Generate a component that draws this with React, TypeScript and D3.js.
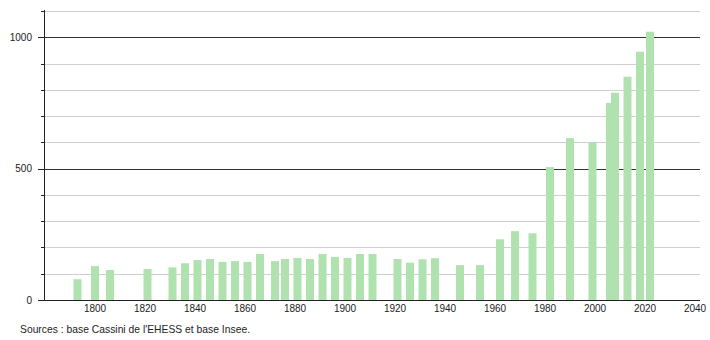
import React from "react";
import * as d3 from "d3";

const years = [1793, 1800, 1806, 1821, 1831, 1836, 1841, 1846, 1851, 1856, 1861, 1866, 1872, 1876, 1881, 1886, 1891, 1896, 1901, 1906, 1911, 1921, 1926, 1931, 1936, 1946, 1954, 1962, 1968, 1975, 1982, 1990, 1999, 2006, 2008, 2013, 2018, 2022];
const population = [79, 129, 114, 118, 124, 140, 152, 156, 145, 148, 145, 175, 148, 156, 160, 156, 175, 164, 160, 175, 175, 156, 142, 155, 159, 133, 133, 231, 262, 254, 506, 616, 600, 750, 789, 850, 945, 1021];
const xTicks = [1800, 1820, 1840, 1860, 1880, 1900, 1920, 1940, 1960, 1980, 2000, 2020, 2040];
const yLabelTicks = [0, 500, 1000];
const yGridTicks = [100, 200, 300, 400, 500, 600, 700, 800, 900, 1000, 1100];
const sourceText = "Sources : base Cassini de l'EHESS et base Insee.";

export default function App() {
  const W = 710, H = 340;
  const x = d3.scaleLinear().domain([1780, 2042]).range([45, 700]);
  const y = d3.scaleLinear().domain([0, 1100]).range([300, 11]);
  const axisX = 44;
  const barW = 8;
  const font = "'Liberation Sans', Arial, sans-serif";
  const minorTicks = d3.range(0, 1101, 100);

  return (
    <svg width={W} height={H} style={{ position: "absolute", left: 0, top: 0, background: "#fff" }}>
      {yGridTicks.map((t) => (
        <line
          key={"g" + t}
          x1={axisX}
          x2={700}
          y1={Math.round(y(t)) + 0.5}
          y2={Math.round(y(t)) + 0.5}
          stroke={t % 500 === 0 ? "#333" : "#cfcfcf"}
          strokeWidth={1}
        />
      ))}
      {years.map((yr, i) => (
        <rect
          key={"b" + yr}
          x={x(yr) - barW / 2}
          y={y(population[i])}
          width={barW}
          height={y(0) - y(population[i])}
          fill="#b0e2b0"
        />
      ))}
      <line x1={axisX + 0.5} x2={axisX + 0.5} y1={10} y2={300} stroke="#222" strokeWidth={1} />
      <line x1={axisX} x2={700} y1={300.5} y2={300.5} stroke="#222" strokeWidth={1} />
      {minorTicks.map((t) => (
        <line
          key={"t" + t}
          x1={t % 500 === 0 ? axisX - 6 : axisX - 3}
          x2={axisX}
          y1={Math.round(y(t)) + 0.5}
          y2={Math.round(y(t)) + 0.5}
          stroke="#222"
          strokeWidth={1}
        />
      ))}
      {yLabelTicks.map((t) => (
        <text
          key={"yl" + t}
          x={32}
          y={y(t)}
          dy="0.35em"
          textAnchor="end"
          fontFamily={font}
          fontSize={10}
          fill="#222"
        >
          {t}
        </text>
      ))}
      {xTicks.map((t) => (
        <text
          key={"xl" + t}
          x={x(t)}
          y={312}
          textAnchor="middle"
          fontFamily={font}
          fontSize={10}
          fill="#222"
        >
          {t}
        </text>
      ))}
      <text x={20} y={333} fontFamily={font} fontSize={10.3} fill="#222" textLength={230} lengthAdjust="spacing">
        {sourceText}
      </text>
    </svg>
  );
}
